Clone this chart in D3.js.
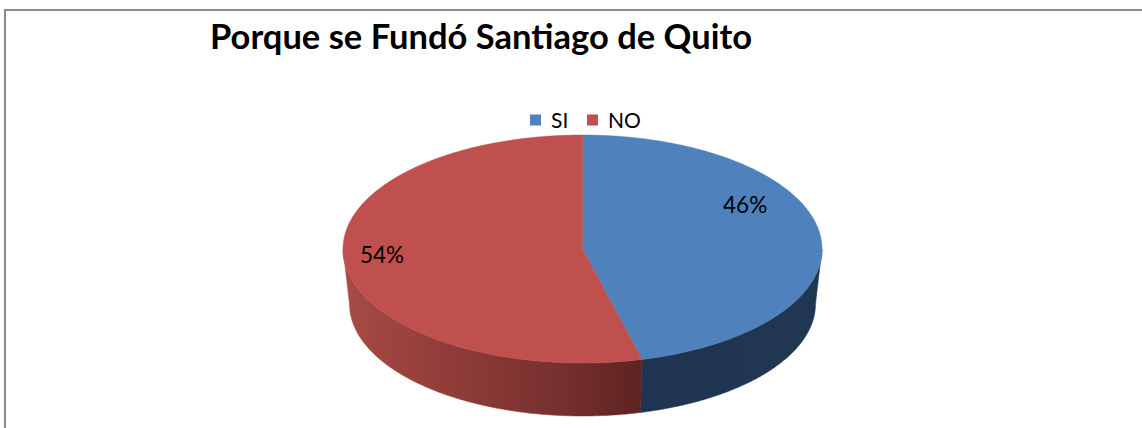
<!DOCTYPE html>
<html><head><meta charset="utf-8">
<script src="https://cdn.jsdelivr.net/npm/d3@7"></script>
<style>html,body{margin:0;padding:0;background:#fff;}svg{display:block;}</style>
</head><body>
<svg id="chart" width="1142" height="428"></svg>
<script>
// ---- data ----
const categories = ["SI", "NO"];
const values = [46, 54];
const labels = ["46%", "54%"];
const titleText = "Porque se Fundó Santiago de Quito";

// ---- style / layout ----
const topColors = ["#4F81BD", "#C0504D"];
const svg = d3.select("#chart");
const W = 1142, H = 428;
const cx = 582.5, cy = 249, rx = 239.5, ry = 114;
const cxb = 582.5, cyb = 304, rxb = 233, ryb = 112;

// frame
svg.append("rect").attr("x", 5).attr("y", 10).attr("width", W + 20).attr("height", H + 20)
  .attr("fill", "#fff").attr("stroke", "#8c8c8c").attr("stroke-width", 2);

// gradients
const defs = svg.append("defs");
const gR = defs.append("linearGradient").attr("id", "sideRed").attr("gradientUnits", "userSpaceOnUse")
  .attr("x1", cx - rx).attr("x2", 655).attr("y1", 0).attr("y2", 0);
[[0, "#a84b46"], [0.35, "#8f3c38"], [0.7, "#76302e"], [1, "#5a2120"]].forEach(s =>
  gR.append("stop").attr("offset", s[0]).attr("stop-color", s[1]));
const gB = defs.append("linearGradient").attr("id", "sideBlue").attr("gradientUnits", "userSpaceOnUse")
  .attr("x1", 650).attr("x2", cx + rx).attr("y1", 0).attr("y2", 0);
[[0, "#1f3450"], [1, "#203752"]].forEach(s =>
  gB.append("stop").attr("offset", s[0]).attr("stop-color", s[1]));
const sideFill = ["url(#sideBlue)", "url(#sideRed)"];

const pie = d3.pie().sort(null).value(d => d);
const arcs = pie(values);

const topPt = a => [cx + rx * Math.sin(a), cy - ry * Math.cos(a)];
const botPt = a => [cxb + rxb * Math.sin(a), cyb - ryb * Math.cos(a)];
const samples = (a0, a1, f) => {
  const n = Math.max(2, Math.ceil(Math.abs(a1 - a0) / 0.01));
  return d3.range(n + 1).map(i => f(a0 + (a1 - a0) * i / n));
};
const line = d3.line();

// sides (front half only: pi/2 .. 3pi/2)
arcs.forEach((d, i) => {
  const a = Math.max(d.startAngle, Math.PI / 2), b = Math.min(d.endAngle, 3 * Math.PI / 2);
  if (b <= a) return;
  const pts = samples(a, b, topPt).concat(samples(b, a, botPt));
  svg.append("path").attr("d", line(pts) + "Z").attr("fill", sideFill[i])
    .attr("stroke", sideFill[i]).attr("stroke-width", 0.5);
});

// tops
arcs.forEach((d, i) => {
  const pts = [[cx, cy]].concat(samples(d.startAngle, d.endAngle, topPt));
  svg.append("path").attr("d", line(pts) + "Z").attr("fill", topColors[i])
    .attr("stroke", topColors[i]).attr("stroke-width", 0.5);
});

// data labels (Excel-style placement, fractions of radii)
const labelPos = [[0.679, -0.386], [-0.837, 0.048]];
arcs.forEach((d, i) => {
  svg.append("text").attr("x", cx + labelPos[i][0] * rx).attr("y", cy + labelPos[i][1] * ry)
    .attr("text-anchor", "middle").attr("dominant-baseline", "central")
    .attr("font-family", "Lato, 'Open Sans', sans-serif").attr("font-size", 22.5)
    .attr("fill", "#000").text(labels[i]);
});

// title
svg.append("text").attr("x", 210).attr("y", 49)
  .attr("font-family", "Lato, 'Open Sans', sans-serif").attr("font-weight", "bold")
  .attr("font-size", 33.5).attr("textLength", 542).attr("lengthAdjust", "spacingAndGlyphs")
  .attr("fill", "#000").text(titleText);

// legend
const legX = [530, 587];
categories.forEach((c, i) => {
  svg.append("rect").attr("x", legX[i]).attr("y", 114.5).attr("width", 11).attr("height", 11)
    .attr("fill", topColors[i]);
  svg.append("text").attr("x", legX[i] + 21).attr("y", 127.5)
    .attr("font-family", "Lato, 'Open Sans', sans-serif").attr("font-size", 21)
    .attr("fill", "#000").text(c);
});
</script>
</body></html>
